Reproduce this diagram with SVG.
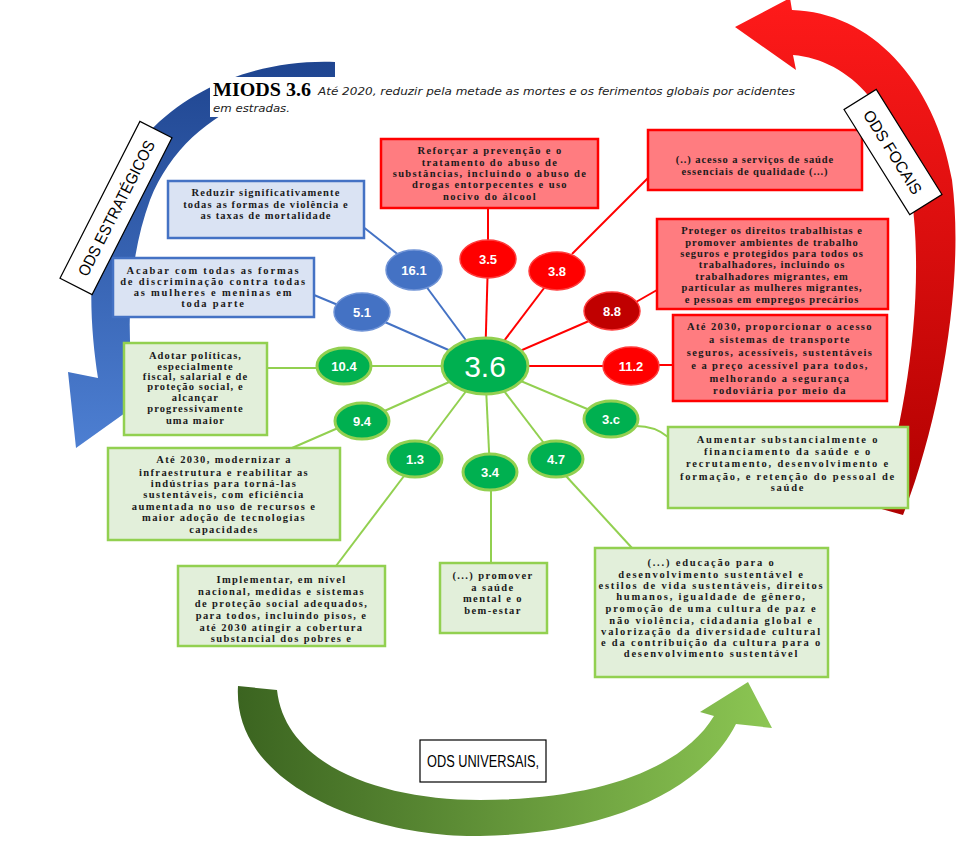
<svg xmlns="http://www.w3.org/2000/svg" width="974" height="866" viewBox="0 0 974 866">
<defs>
<linearGradient id="gBlue" x1="0" y1="0" x2="0" y2="1">
<stop offset="0" stop-color="#1f4590"/>
<stop offset="1" stop-color="#4d7fd2"/>
</linearGradient>
<linearGradient id="gRed" x1="0" y1="0" x2="0" y2="1">
<stop offset="0" stop-color="#ff1a1a"/>
<stop offset="1" stop-color="#b00000"/>
</linearGradient>
<linearGradient id="gGreen" x1="0" y1="0" x2="1" y2="0">
<stop offset="0" stop-color="#3b6420"/>
<stop offset="1" stop-color="#8cc653"/>
</linearGradient>
<style>
.bt{font-family:"Liberation Serif","Times New Roman",serif;font-weight:bold;font-size:10.5px;letter-spacing:1.4px;fill:#1a1a1a;text-anchor:middle}
.w1 .bt{letter-spacing:0.9px}
.w2 .bt{letter-spacing:1.1px}
.w3 .bt{letter-spacing:1.8px}
.rb{fill:#ff7c80;stroke:#ff0000;stroke-width:2.5}
.bb{fill:#dae3f3;stroke:#4472c4;stroke-width:2.5}
.gb{fill:#e2efda;stroke:#92d050;stroke-width:2.5}
.nt{font-family:"Liberation Sans",Arial,sans-serif;font-weight:bold;font-size:13px;fill:#fff;text-anchor:middle}
.rn{fill:#ff0000;stroke:#ff3b3b;stroke-width:1.5}
.dn{fill:#c00000;stroke:#ff3b3b;stroke-width:1.5}
.bn{fill:#4472c4;stroke:#6f93d6;stroke-width:1.5}
.gn{fill:#00b050;stroke:#92d050;stroke-width:3}
.lr{stroke:#ff0000;stroke-width:2;fill:none}
.lb{stroke:#4472c4;stroke-width:2;fill:none}
.lg{stroke:#92d050;stroke-width:2;fill:none}
.lab{font-family:"Liberation Sans",Arial,sans-serif;font-size:16px;fill:#000;text-anchor:middle}
</style>
</defs>
<rect width="974" height="866" fill="#ffffff"/>

<g id="arrows">
<path id="arrow-blue" fill="url(#gBlue)" d="M 335 62 C 235 58, 120 110, 95 240 C 88 290, 92 340, 98 378 L 68 372 L 76 448 L 146 398 L 134 386 C 126 330, 128 260, 150 200 C 180 125, 250 88, 335 80 Z"/>
<path id="arrow-red" fill="url(#gRed)" d="M 735 27 L 790 -2 L 792 10 C 870 12, 935 80, 952 180 C 965 280, 940 420, 903 515 L 878 508 C 905 420, 925 300, 912 200 C 898 110, 850 60, 793 55 L 796 70 Z"/>
<path id="arrow-green" fill="url(#gGreen)" d="M 238 686 C 232 790, 380 838, 480 836 C 600 834, 700 795, 736 724 L 772 728 L 748 682 L 700 712 L 714 716 C 680 772, 590 800, 480 800 C 380 800, 285 765, 277 690 Z"/>
</g>

<g id="title">
<rect x="210" y="77" width="592" height="40" fill="#fff"/>
<text x="213" y="96" font-family="Liberation Serif,'Times New Roman',serif" font-weight="bold" font-size="19" fill="#000" textLength="98" lengthAdjust="spacingAndGlyphs">MIODS 3.6</text>
<text x="318" y="95" font-family="'DejaVu Sans',Verdana,sans-serif" font-style="italic" font-size="11" fill="#222" textLength="477" lengthAdjust="spacingAndGlyphs">Até 2020, reduzir pela metade as mortes e os ferimentos globais por acidentes</text>
<text x="213" y="112" font-family="'DejaVu Sans',Verdana,sans-serif" font-style="italic" font-size="11" fill="#222" textLength="77" lengthAdjust="spacingAndGlyphs">em estradas.</text>
</g>

<g id="connectors">
<line class="lb" x1="485" y1="366" x2="414" y2="270"/>
<line class="lb" x1="485" y1="366" x2="362" y2="312"/>
<line class="lr" x1="485" y1="366" x2="488" y2="259"/>
<line class="lr" x1="485" y1="366" x2="557" y2="271"/>
<line class="lr" x1="485" y1="366" x2="612" y2="311"/>
<line class="lr" x1="485" y1="366" x2="631" y2="366"/>
<line class="lg" x1="485" y1="366" x2="344" y2="366"/>
<line class="lg" x1="485" y1="366" x2="362" y2="421"/>
<line class="lg" x1="485" y1="366" x2="415" y2="459"/>
<line class="lg" x1="485" y1="366" x2="490" y2="472"/>
<line class="lg" x1="485" y1="366" x2="556" y2="459"/>
<line class="lg" x1="485" y1="366" x2="611" y2="419"/>
<line class="lb" x1="362" y1="226" x2="400" y2="256"/>
<line class="lb" x1="314" y1="295" x2="338" y2="305"/>
<line class="lr" x1="488" y1="208" x2="488" y2="240"/>
<line class="lr" x1="572" y1="254" x2="648" y2="178"/>
<line class="lr" x1="636" y1="302" x2="657" y2="290"/>
<line class="lr" x1="659" y1="365" x2="673" y2="365"/>
<line class="lg" x1="267" y1="368" x2="316" y2="368"/>
<line class="lg" x1="292" y1="448" x2="338" y2="428"/>
<line class="lg" x1="336" y1="566" x2="404" y2="476"/>
<line class="lg" x1="491" y1="490" x2="491" y2="563"/>
<line class="lg" x1="566" y1="476" x2="632" y2="548"/>
<path class="lg" d="M 636 426 Q 655 426 668 437"/>
</g>

<g id="box-3-5"><rect class="rb" x="381" y="139" width="217" height="69"/>
<text class="bt" x="490" y="154">Reforçar a prevenção e o</text>
<text class="bt" x="490" y="166">tratamento do abuso de</text>
<text class="bt" x="490" y="177">substâncias, incluindo o abuso de</text>
<text class="bt" x="490" y="188">drogas entorpecentes e uso</text>
<text class="bt" x="490" y="200">nocivo do álcool</text></g>

<g id="box-3-8" class="w1"><rect class="rb" x="648" y="130" width="214" height="60"/>
<text class="bt" x="755" y="163">(..) acesso a serviços de saúde</text>
<text class="bt" x="755" y="175">essenciais de qualidade (...)</text></g>

<g id="box-8-8" class="w1"><rect class="rb" x="657" y="219" width="231" height="90"/>
<text class="bt" x="772" y="234">Proteger os direitos trabalhistas e</text>
<text class="bt" x="772" y="245.5">promover ambientes de trabalho</text>
<text class="bt" x="772" y="257">seguros e protegidos para todos os</text>
<text class="bt" x="772" y="268">trabalhadores, incluindo os</text>
<text class="bt" x="772" y="279.5">trabalhadores migrantes, em</text>
<text class="bt" x="772" y="291">particular as mulheres migrantes,</text>
<text class="bt" x="772" y="302.5">e pessoas em empregos precários</text></g>

<g id="box-11-2"><rect class="rb" x="673" y="315" width="214" height="86"/>
<text class="bt" x="780" y="330">Até 2030, proporcionar o acesso</text>
<text class="bt" x="780" y="343">a sistemas de transporte</text>
<text class="bt" x="780" y="356">seguros, acessíveis, sustentáveis</text>
<text class="bt" x="780" y="368.5">e a preço acessível para todos,</text>
<text class="bt" x="780" y="381.5">melhorando a segurança</text>
<text class="bt" x="780" y="393.5">rodoviária por meio da</text></g>

<g id="box-16-1" class="w2"><rect class="bb" x="168" y="181" width="196" height="57"/>
<text class="bt" x="266" y="196">Reduzir significativamente</text>
<text class="bt" x="266" y="208">todas as formas de violência e</text>
<text class="bt" x="266" y="219">as taxas de mortalidade</text></g>

<g id="box-5-1" class="w3"><rect class="bb" x="113" y="258" width="201" height="59"/>
<text class="bt" x="213.5" y="274">Acabar com todas as formas</text>
<text class="bt" x="213.5" y="285">de discriminação contra todas</text>
<text class="bt" x="213.5" y="296">as mulheres e meninas em</text>
<text class="bt" x="213.5" y="307">toda parte</text></g>

<g id="box-10-4" class="w2"><rect class="gb" x="124" y="343" width="143" height="92"/>
<text class="bt" x="195.5" y="359">Adotar políticas,</text>
<text class="bt" x="195.5" y="370">especialmente</text>
<text class="bt" x="195.5" y="380">fiscal, salarial e de</text>
<text class="bt" x="195.5" y="390">proteção social, e</text>
<text class="bt" x="195.5" y="401">alcançar</text>
<text class="bt" x="195.5" y="412">progressivamente</text>
<text class="bt" x="195.5" y="423.5">uma maior</text></g>

<g id="box-9-4"><rect class="gb" x="108" y="448" width="232" height="92"/>
<text class="bt" x="224" y="463">Até 2030, modernizar a</text>
<text class="bt" x="224" y="476">infraestrutura e reabilitar as</text>
<text class="bt" x="224" y="487">indústrias para torná-las</text>
<text class="bt" x="224" y="498">sustentáveis, com eficiência</text>
<text class="bt" x="224" y="510">aumentada no uso de recursos e</text>
<text class="bt" x="224" y="521">maior adoção de tecnologias</text>
<text class="bt" x="224" y="533">capacidades</text></g>

<g id="box-3-c" class="w3"><rect class="gb" x="668" y="427" width="240" height="81"/>
<text class="bt" x="788" y="443">Aumentar substancialmente o</text>
<text class="bt" x="788" y="455">financiamento da saúde e o</text>
<text class="bt" x="788" y="467">recrutamento, desenvolvimento e</text>
<text class="bt" x="788" y="480">formação, e retenção do pessoal de</text>
<text class="bt" x="788" y="491">saúde</text></g>

<g id="box-1-3"><rect class="gb" x="178" y="566" width="207" height="80"/>
<text class="bt" x="281.5" y="583">Implementar, em nível</text>
<text class="bt" x="281.5" y="594.5">nacional, medidas e sistemas</text>
<text class="bt" x="281.5" y="606.5">de proteção social adequados,</text>
<text class="bt" x="281.5" y="619">para todos, incluindo pisos, e</text>
<text class="bt" x="281.5" y="630.5">até 2030 atingir a cobertura</text>
<text class="bt" x="281.5" y="642">substancial dos pobres e</text></g>

<g id="box-3-4"><rect class="gb" x="440" y="563" width="107" height="70"/>
<text class="bt" x="493" y="579">(...) promover</text>
<text class="bt" x="493" y="591">a saúde</text>
<text class="bt" x="493" y="602">mental e o</text>
<text class="bt" x="493" y="614">bem-estar</text></g>

<g id="box-4-7" class="w3"><rect class="gb" x="595" y="548" width="233" height="129"/>
<text class="bt" x="711.5" y="566">(...) educação para o</text>
<text class="bt" x="711.5" y="577.5">desenvolvimento sustentável e</text>
<text class="bt" x="711.5" y="588.5">estilos de vida sustentáveis, direitos</text>
<text class="bt" x="711.5" y="600">humanos, igualdade de gênero,</text>
<text class="bt" x="711.5" y="612">promoção de uma cultura de paz e</text>
<text class="bt" x="711.5" y="623.5">não violência, cidadania global e</text>
<text class="bt" x="711.5" y="634.5">valorização da diversidade cultural</text>
<text class="bt" x="711.5" y="645.5">e da contribuição da cultura para o</text>
<text class="bt" x="711.5" y="656.5">desenvolvimento sustentável</text></g>

<g id="node-3-6"><ellipse class="gn" cx="485" cy="366" rx="43" ry="28"/><text x="485" y="377" font-family="Liberation Sans,Arial,sans-serif" font-size="30" fill="#fff" text-anchor="middle">3.6</text></g>
<g id="node-16-1"><ellipse class="bn" cx="414" cy="270" rx="28" ry="20"/><text class="nt" x="414" y="275">16.1</text></g>
<g id="node-5-1"><ellipse class="bn" cx="362" cy="312" rx="28" ry="19"/><text class="nt" x="362" y="317">5.1</text></g>
<g id="node-3-5"><ellipse class="rn" cx="488" cy="259" rx="28" ry="19"/><text class="nt" x="488" y="264">3.5</text></g>
<g id="node-3-8"><ellipse class="rn" cx="557" cy="271" rx="28" ry="19"/><text class="nt" x="557" y="276">3.8</text></g>
<g id="node-8-8"><ellipse class="dn" cx="612" cy="311" rx="28" ry="19"/><text class="nt" x="612" y="316">8.8</text></g>
<g id="node-11-2"><ellipse class="rn" cx="631" cy="366" rx="28" ry="19"/><text class="nt" x="631" y="371">11.2</text></g>
<g id="node-10-4"><ellipse class="gn" cx="344" cy="366" rx="27" ry="18"/><text class="nt" x="344" y="371">10.4</text></g>
<g id="node-9-4"><ellipse class="gn" cx="362" cy="421" rx="27" ry="18"/><text class="nt" x="362" y="426">9.4</text></g>
<g id="node-1-3"><ellipse class="gn" cx="415" cy="459" rx="27" ry="18"/><text class="nt" x="415" y="464">1.3</text></g>
<g id="node-3-4"><ellipse class="gn" cx="490" cy="472" rx="27" ry="18"/><text class="nt" x="490" y="477">3.4</text></g>
<g id="node-4-7"><ellipse class="gn" cx="556" cy="459" rx="27" ry="18"/><text class="nt" x="556" y="464">4.7</text></g>
<g id="node-3-c"><ellipse class="gn" cx="611" cy="419" rx="27" ry="18"/><text class="nt" x="611" y="424">3.c</text></g>

<g id="label-estrategicos" transform="translate(116,208) rotate(-63)"><rect x="-88" y="-18" width="176" height="36" fill="#fff" stroke="#000" stroke-width="1.2"/><text class="lab" x="0" y="6" textLength="150" lengthAdjust="spacingAndGlyphs">ODS ESTRATÉGICOS</text></g>
<g id="label-focais" transform="translate(893,152) rotate(58)"><rect x="-62" y="-19" width="124" height="38" fill="#fff" stroke="#000" stroke-width="1.2"/><text class="lab" x="0" y="6" textLength="96" lengthAdjust="spacingAndGlyphs">ODS FOCAIS</text></g>
<g id="label-universais"><rect x="420" y="740" width="126" height="42" fill="#fff" stroke="#000" stroke-width="1.2"/><text class="lab" x="483" y="767" textLength="112" lengthAdjust="spacingAndGlyphs">ODS UNIVERSAIS,</text></g>
</svg>
